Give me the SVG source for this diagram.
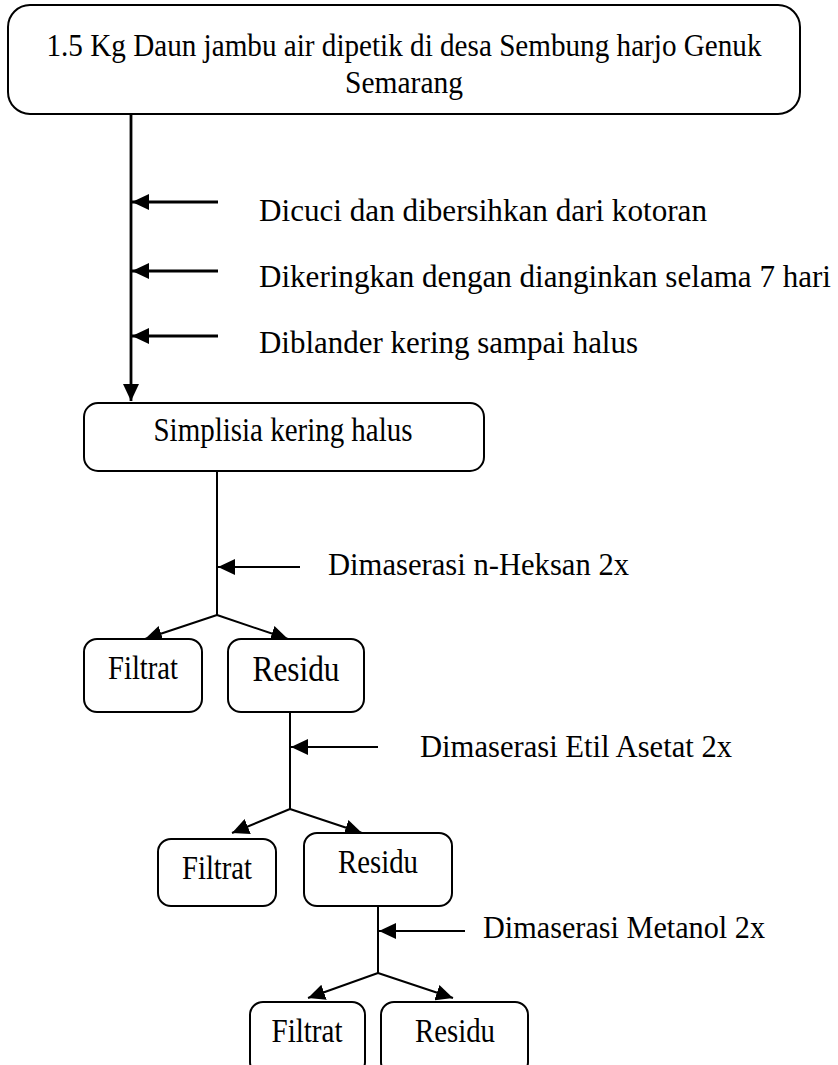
<svg xmlns="http://www.w3.org/2000/svg" width="838" height="1065" viewBox="0 0 838 1065">
<defs>
<style>
.box{fill:#fff;stroke:#000;stroke-width:2}
.bt{font-family:"Liberation Serif","Times New Roman",serif;font-size:34px;fill:#000;text-anchor:middle}
.lb{font-family:"Liberation Serif","Times New Roman",serif;font-size:31px;fill:#000}
.ln{fill:none;stroke:#000;stroke-width:2}
.thick{stroke-width:2.8}
</style>
<marker id="ah" markerUnits="userSpaceOnUse" markerWidth="18" markerHeight="16" viewBox="0 0 18 16" refX="17" refY="8" orient="auto">
<path d="M0,0 L17,8 L0,16 Z" fill="#000"/>
</marker>
</defs>
<rect width="838" height="1065" fill="#fff"/>

<g id="connectors">
<path class="ln thick" d="M131,114 V401" marker-end="url(#ah)"/>
<path class="ln thick" d="M218,202 H132" marker-end="url(#ah)"/>
<path class="ln thick" d="M218,271 H132" marker-end="url(#ah)"/>
<path class="ln thick" d="M218,336 H132" marker-end="url(#ah)"/>

<path class="ln" d="M217,471 V615"/>
<path class="ln" d="M300,567 H218" stroke-width="2.5" marker-end="url(#ah)"/>
<path class="ln" stroke-width="2.5" d="M217,615 L145,639" marker-end="url(#ah)"/>
<path class="ln" stroke-width="2.5" d="M217,615 L288,639" marker-end="url(#ah)"/>

<path class="ln" d="M290,712 V809"/>
<path class="ln" d="M378,747 H291" stroke-width="2.5" marker-end="url(#ah)"/>
<path class="ln" stroke-width="2.5" d="M290,809 L232,833" marker-end="url(#ah)"/>
<path class="ln" stroke-width="2.5" d="M290,809 L362,833" marker-end="url(#ah)"/>

<path class="ln" d="M378,906 V973"/>
<path class="ln" d="M465,931 H379" stroke-width="2.5" marker-end="url(#ah)"/>
<path class="ln" stroke-width="2.5" d="M378,973 L308,998" marker-end="url(#ah)"/>
<path class="ln" stroke-width="2.5" d="M378,973 L453,998" marker-end="url(#ah)"/>
</g>

<g id="labels">
<text class="lb" x="259" y="221" textLength="448" lengthAdjust="spacingAndGlyphs">Dicuci dan dibersihkan dari kotoran</text>
<text class="lb" x="259" y="287" textLength="572" lengthAdjust="spacingAndGlyphs">Dikeringkan dengan dianginkan selama 7 hari</text>
<text class="lb" x="259" y="353" textLength="379" lengthAdjust="spacingAndGlyphs">Diblander kering sampai halus</text>
<text class="lb" x="328" y="575" textLength="301" lengthAdjust="spacingAndGlyphs">Dimaserasi n-Heksan 2x</text>
<text class="lb" x="420" y="757" textLength="312" lengthAdjust="spacingAndGlyphs">Dimaserasi Etil Asetat 2x</text>
<text class="lb" x="483" y="938" textLength="282" lengthAdjust="spacingAndGlyphs">Dimaserasi Metanol 2x</text>
</g>

<g id="node-start">
<rect class="box" x="8" y="5" width="792" height="109" rx="22" stroke-width="2.5"/>
<text class="bt" x="404" y="56" style="font-size:31px" textLength="715" lengthAdjust="spacingAndGlyphs">1.5 Kg Daun jambu air dipetik di desa Sembung harjo Genuk</text>
<text class="bt" x="404" y="93" style="font-size:31px" textLength="118" lengthAdjust="spacingAndGlyphs">Semarang</text>
</g>

<g id="node-simplisia">
<rect class="box" x="84" y="403" width="400" height="68" rx="14"/>
<text class="bt" x="283" y="441" textLength="259" lengthAdjust="spacingAndGlyphs">Simplisia kering halus</text>
</g>

<g id="node-filtrat1">
<rect class="box" x="84" y="639" width="118" height="73" rx="13"/>
<text class="bt" x="143" y="679" textLength="70" lengthAdjust="spacingAndGlyphs">Filtrat</text>
</g>
<g id="node-residu1">
<rect class="box" x="228" y="639" width="136" height="73" rx="13"/>
<text class="bt" x="296" y="681" style="font-size:36px" textLength="87" lengthAdjust="spacingAndGlyphs">Residu</text>
</g>

<g id="node-filtrat2">
<rect class="box" x="158" y="839" width="118" height="67" rx="13"/>
<text class="bt" x="217" y="879" textLength="70" lengthAdjust="spacingAndGlyphs">Filtrat</text>
</g>
<g id="node-residu2">
<rect class="box" x="304" y="833" width="148" height="73" rx="13"/>
<text class="bt" x="378" y="873" textLength="80" lengthAdjust="spacingAndGlyphs">Residu</text>
</g>

<g id="node-filtrat3">
<rect class="box" x="250" y="1002" width="115" height="73" rx="13"/>
<text class="bt" x="307" y="1042" textLength="71" lengthAdjust="spacingAndGlyphs">Filtrat</text>
</g>
<g id="node-residu3">
<rect class="box" x="381" y="1002" width="147" height="73" rx="13"/>
<text class="bt" x="455" y="1042" textLength="80" lengthAdjust="spacingAndGlyphs">Residu</text>
</g>
</svg>
